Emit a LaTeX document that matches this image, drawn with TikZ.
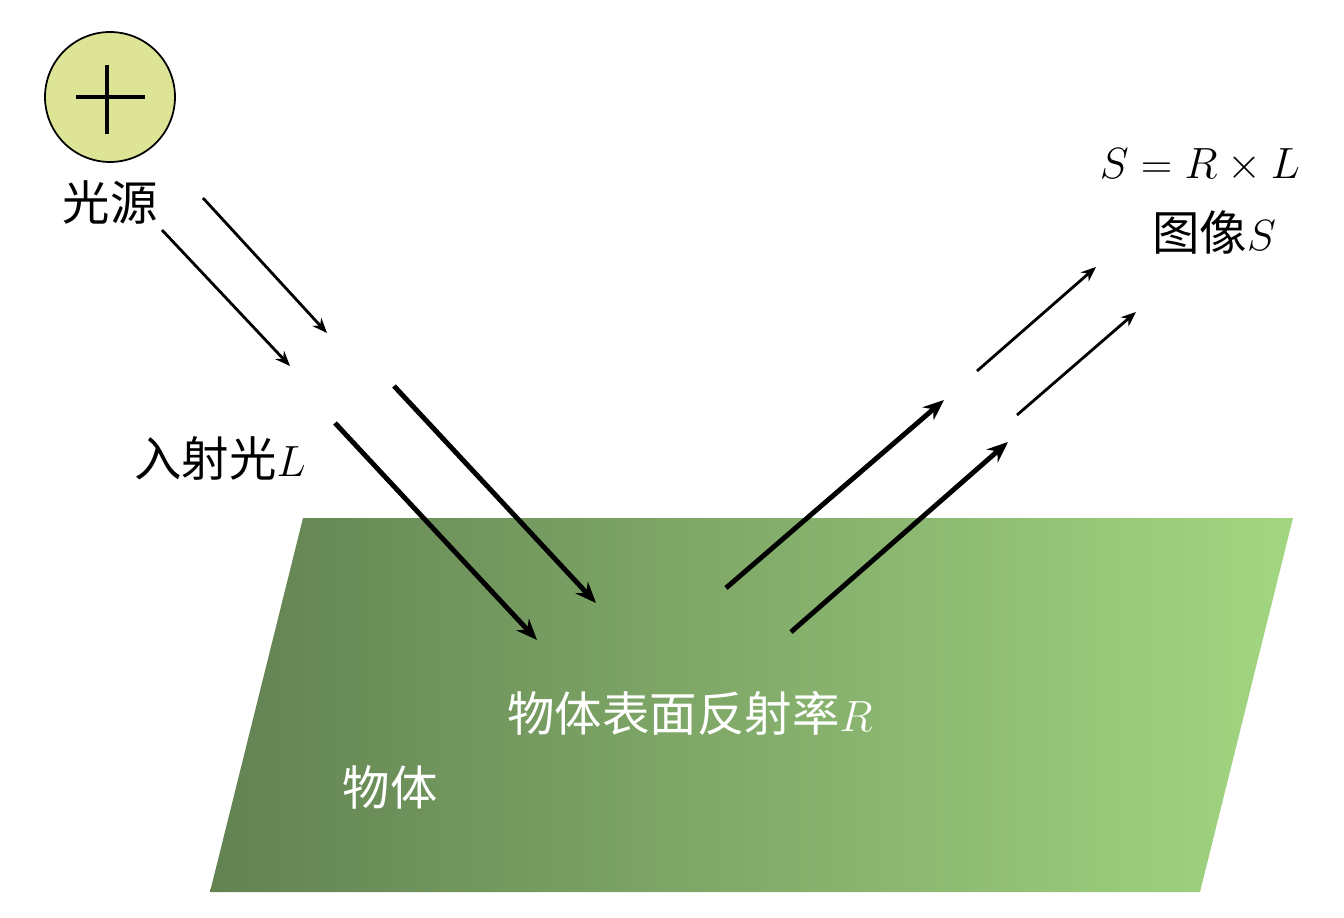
\documentclass[tikz,border=0pt]{standalone}
\usepackage{fontspec}
\newfontfamily\cjk{Noto Sans CJK SC}
\usetikzlibrary{positioning, arrows.meta, calc}
\definecolor{lampyellow}{RGB}{221,228,150}
\definecolor{objdark}{RGB}{98,130,82}
\definecolor{objlight}{RGB}{163,214,130}
\tikzset{
    x=0.02cm, y=-0.02cm, % pixel grid of the picture
    every node/.style={ % Sets the font for each label
        font=\cjk\fontsize{27}{32}\selectfont,
        inner sep=0pt
    },
    lamp/.style={ % The light source
        circle,
        draw,
        line width=1pt,
        fill=lampyellow,
        minimum size=2.6cm
    },
    ray/.style={-{Stealth[length=0.3cm, width=0.24cm]}, line width=1.6pt}, % thin rays
    bigray/.style={-{Stealth[length=0.42cm, width=0.34cm]}, line width=2.8pt}, % thick rays
    whitelabel/.style={text=white}
}

\begin{document}
\begin{tikzpicture}
    \useasboundingbox (0,0) rectangle (1344,918);
    % object surface
    \path[left color=objdark, right color=objlight]
        (210,892) -- (303,518) -- (1293,518) -- (1200,892) -- cycle;
    \node[whitelabel]                   (refl)   at (690,713) {物体表面反射率$R$};
    \node[whitelabel]                   (obj)    at (390,787) {物体};

    % light source
    \node[lamp]                         (src)    at (110,97)  {};
    \draw[line width=2.6pt] ($(src.center)+(-34,0)$) -- ($(src.center)+(35,0)$)
                            ($(src.center)+(-3,-32)$) -- ($(src.center)+(-3,37)$);
    \node[below=0.35cm of src]          (srclbl)             {光源};

    % incident light
    \coordinate (inA1) at (203,198);  \coordinate (inA2) at (327,333);
    \coordinate (inB1) at (162,230);  \coordinate (inB2) at (290,366);
    \coordinate (inC1) at (394,386);  \coordinate (inC2) at (596,603);
    \coordinate (inD1) at (335,423);  \coordinate (inD2) at (537,640);
    \draw[ray]    (inA1) -- (inA2);
    \draw[ray]    (inB1) -- (inB2);
    \draw[bigray] (inC1) -- (inC2);
    \draw[bigray] (inD1) -- (inD2);
    \node                               (inlbl)  at (220,458) {入射光$L$};

    % reflected light
    \coordinate (outA1) at (726,588);  \coordinate (outA2) at (944,400);
    \coordinate (outB1) at (791,632);  \coordinate (outB2) at (1008,442);
    \coordinate (outC1) at (977,371);  \coordinate (outC2) at (1096,267);
    \coordinate (outD1) at (1017,415); \coordinate (outD2) at (1136,312);
    \draw[bigray] (outA1) -- (outA2);
    \draw[bigray] (outB1) -- (outB2);
    \draw[ray]    (outC1) -- (outC2);
    \draw[ray]    (outD1) -- (outD2);

    \node                               (formula) at (1200,165) {$S = R \times L$};
    \node                               (img)     at (1214,232) {图像$S$};
\end{tikzpicture}
\end{document}
